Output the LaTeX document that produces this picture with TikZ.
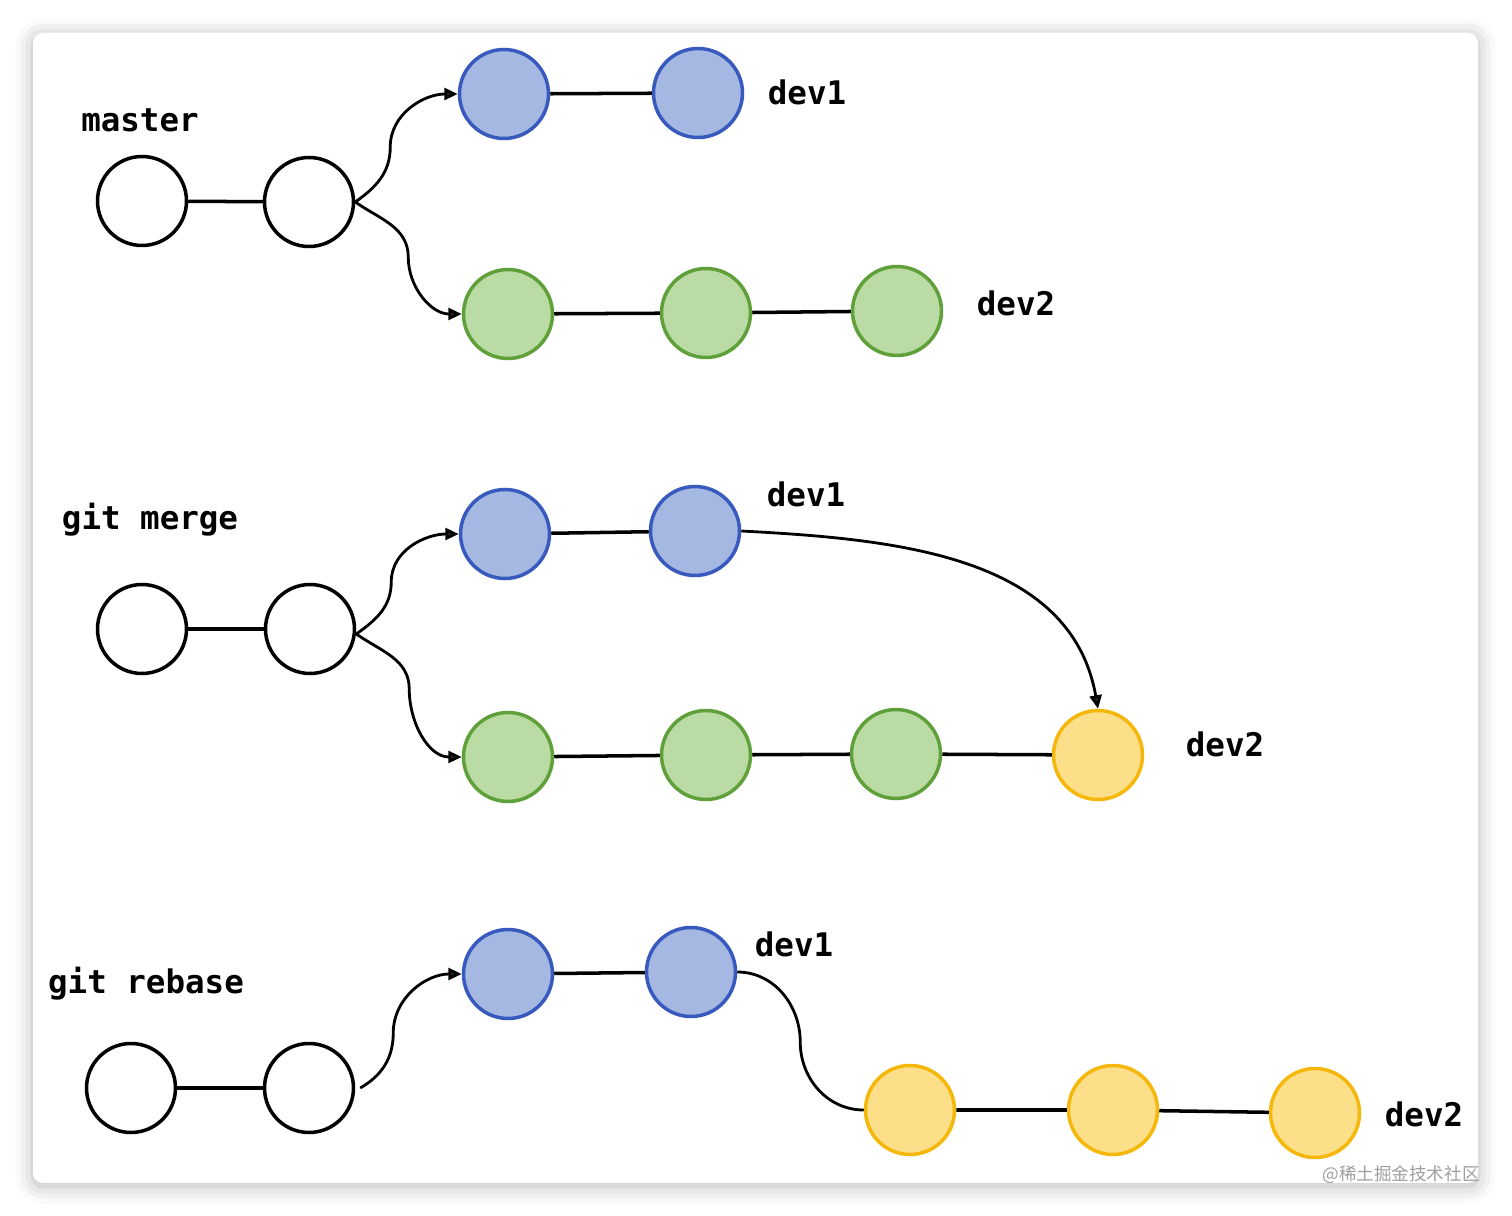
\documentclass[tikz,border=0pt]{standalone}
\usepackage{fontspec}
\setmonofont{DejaVu Sans Mono}
\newfontfamily\cjkfont{Noto Sans CJK SC}
\usetikzlibrary{arrows.meta,shadows.blur}

\definecolor{blueFill}{RGB}{164,184,225}
\definecolor{blueLine}{RGB}{56,89,190}
\definecolor{greenFill}{RGB}{186,220,164}
\definecolor{greenLine}{RGB}{96,160,58}
\definecolor{yellowFill}{RGB}{253,223,138}
\definecolor{yellowLine}{RGB}{245,184,10}

\begin{document}
\begin{tikzpicture}[x=0.02cm,y=-0.02cm,
  commit/.style={circle,draw=black,fill=white,line width=2pt,
    minimum size=1.78cm,inner sep=0pt},
  devone/.style={commit,draw=blueLine,fill=blueFill},
  devtwo/.style={commit,draw=greenLine,fill=greenFill},
  merged/.style={commit,draw=yellowLine,fill=yellowFill},
  branch/.style={font=\ttfamily\bfseries\fontsize{18.5}{21}\selectfont},
  link/.style={line width=2pt},
  fork/.style={line width=1.6pt,-{Triangle[length=0.27cm,width=0.24cm]}}]

\useasboundingbox (0,0) rectangle (1512,1216);

% card
\fill[white,rounded corners=0.2cm,blur shadow={shadow xshift=0cm,
  shadow yshift=-0.06cm,shadow blur radius=0.35cm,shadow opacity=30}]
  (33,33) rectangle (1478,1183);

% --- before: master, dev1, dev2
\node[branch] (lmaster) at (140,120) {master};
\node[commit] (m1) at (142,201) {};
\node[commit] (m2) at (309,202) {};
\node[devone] (a1) at (504,94) {};
\node[devone] (a2) at (698,93) {};
\node[devtwo] (b1) at (508,314) {};
\node[devtwo] (b2) at (706,313) {};
\node[devtwo] (b3) at (897,311) {};
\node[branch] (la) at (807,92) {dev1};
\node[branch] (lb) at (1016,303) {dev2};

\draw[link] (m1) -- (m2);
\draw[link] (a1) -- (a2);
\draw[link] (b1) -- (b2) -- (b3);
\draw[fork] (m2.east) to[out=35,in=-90] +(35,-55)
  to[out=90,in=180] (a1.west);
\draw[fork] (m2.east) to[out=-35,in=90] +(53,55)
  to[out=-90,in=180] (b1.west);

% --- git merge
\node[branch] (lmerge) at (150,520) {git merge};
\node[commit] (gm1) at (142,629) {};
\node[commit] (gm2) at (310,629) {};
\node[devone] (ma1) at (505,534) {};
\node[devone] (ma2) at (695,531) {};
\node[devtwo] (mb1) at (508,757) {};
\node[devtwo] (mb2) at (706,755) {};
\node[devtwo] (mb3) at (896,754) {};
\node[merged] (mc) at (1098,755) {};
\node[branch] (mla) at (806,494) {dev1};
\node[branch] (mlb) at (1225,744) {dev2};

\draw[link] (gm1) -- (gm2);
\draw[link] (ma1) -- (ma2);
\draw[link] (mb1) -- (mb2) -- (mb3) -- (mc);
\draw[fork] ([yshift=-0.1cm]gm2.east) to[out=35,in=-90] +(35,-52)
  to[out=90,in=180] (ma1.west);
\draw[fork] ([yshift=-0.1cm]gm2.east) to[out=-35,in=90] +(53,55)
  to[out=-90,in=180] (mb1.west);
\draw[fork] (ma2.east) to[out=-3,in=100,looseness=1] (mc.north);

% --- git rebase
\node[branch] (lrebase) at (146,984) {git rebase};
\node[commit] (gr1) at (131,1088) {};
\node[commit] (gr2) at (309,1088) {};
\node[devone] (ra1) at (508,974) {};
\node[devone] (ra2) at (691,972) {};
\node[merged] (rc1) at (910,1110) {};
\node[merged] (rc2) at (1113,1110) {};
\node[merged] (rc3) at (1315,1113) {};
\node[branch] (rla) at (794,944) {dev1};
\node[branch] (rlb) at (1424,1114) {dev2};

\draw[link] (gr1) -- (gr2);
\draw[link] (ra1) -- (ra2);
\draw[link] (rc1) -- (rc2) -- (rc3);
\draw[fork] ([xshift=0.1cm]gr2.east) to[out=30,in=-90] +(33,-55)
  to[out=90,in=180] (ra1.west);
\draw[line width=1.6pt] (ra2.east) to[out=0,in=90] +(63,70)
  to[out=-90,in=180] (rc1.west);

% watermark
\node[text=gray!75,font=\cjkfont\fontsize{10}{12}\selectfont] (mark)
  at (1401,1175) {@稀土掘金技术社区};

\end{tikzpicture}
\end{document}
